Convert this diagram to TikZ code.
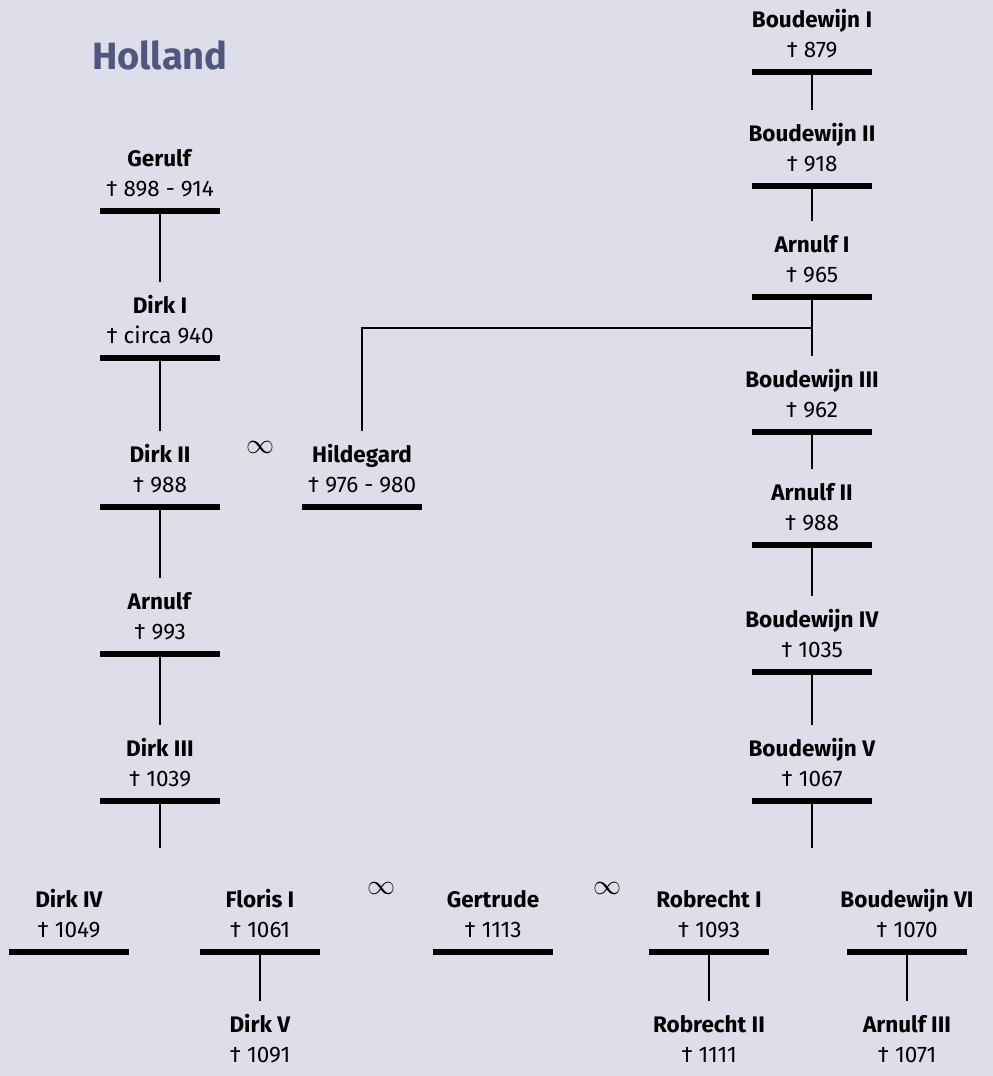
\documentclass[tikz,border=0pt]{standalone}
\usepackage{fontspec}
\usepackage{graphicx}
\setmainfont{Fira Sans}
\begin{document}
\begin{tikzpicture}[x=1pt,y=-1pt,
  person/.style={anchor=south, minimum width=120pt, minimum height=76pt, inner sep=0pt,
    align=center, font=\fontsize{22.5}{30}\selectfont},
  bar/.style={line width=5.5pt},
  link/.style={line width=1.3pt},
  marr/.style={inner sep=0pt}]
\fill[fill={rgb,255:red,222;green,221;blue,234}] (0,0) rectangle (993,1076);
\useasboundingbox (0,0) rectangle (993,1076);
\node[anchor=west, font=\fontsize{38}{38}\bfseries\selectfont, text={rgb,255:red,80;green,86;blue,128}, inner sep=0pt] (title) at (92,55) {Holland};
\newcommand{\pers}[5]{%
  \node[person] (#1) at (#2,#3) {\textbf{#4}\\\dag\ #5};
  \draw[bar] ([xshift=-60pt]#1.south) -- ([xshift=60pt]#1.south);}
\newcommand{\persnb}[5]{%
  \node[person] (#1) at (#2,#3) {\textbf{#4}\\\dag\ #5};}
% left column
\pers{gerulf}{160}{211}{Gerulf}{898 - 914}
\pers{dirk1}{160}{358}{Dirk I}{circa 940}
\pers{dirk2}{160}{507}{Dirk II}{988}
\pers{arnulf}{160}{654}{Arnulf}{993}
\pers{dirk3}{160}{801}{Dirk III}{1039}
\pers{hildegard}{362}{507}{Hildegard}{976 - 980}
% right column
\pers{boud1}{812}{72}{Boudewijn I}{879}
\pers{boud2}{812}{186}{Boudewijn II}{918}
\pers{arn1}{812}{297}{Arnulf I}{965}
\pers{boud3}{812}{432}{Boudewijn III}{962}
\pers{arn2}{812}{545}{Arnulf II}{988}
\pers{boud4}{812}{672}{Boudewijn IV}{1035}
\pers{boud5}{812}{801}{Boudewijn V}{1067}
% bottom row
\pers{dirk4}{69}{952}{Dirk IV}{1049}
\pers{floris}{260}{952}{Floris I}{1061}
\pers{gertrude}{493}{952}{Gertrude}{1113}
\pers{robr1}{709}{952}{Robrecht I}{1093}
\pers{boud6}{907}{952}{Boudewijn VI}{1070}
\persnb{dirk5}{260}{1077}{Dirk V}{1091}
\persnb{robr2}{709}{1077}{Robrecht II}{1111}
\persnb{arn3}{907}{1077}{Arnulf III}{1071}
% marriages
\node[marr] (m1) at (260,447) {\scalebox{2.8}{$\infty$}};
\node[marr] (m2) at (381,888) {\scalebox{2.8}{$\infty$}};
\node[marr] (m3) at (607,888) {\scalebox{2.8}{$\infty$}};
% connectors
\draw[link] (gerulf.south) -- (dirk1.north);
\draw[link] (dirk1.south) -- (dirk2.north);
\draw[link] (dirk2.south) -- (arnulf.north);
\draw[link] (arnulf.south) -- (dirk3.north);
\coordinate (d3end) at (160,848);
\draw[link] (dirk3.south) -- (d3end);
\draw[link] (boud1.south) -- (boud2.north);
\draw[link] (boud2.south) -- (arn1.north);
\draw[link] (arn1.south) -- (boud3.north);
\draw[link] (arn1.south |- 0,328) -| (hildegard.north);
\draw[link] (boud3.south) -- (arn2.north);
\draw[link] (arn2.south) -- (boud4.north);
\draw[link] (boud4.south) -- (boud5.north);
\coordinate (b5end) at (812,848);
\draw[link] (boud5.south) -- (b5end);
\draw[link] (floris.south) -- (dirk5.north);
\draw[link] (robr1.south) -- (robr2.north);
\draw[link] (boud6.south) -- (arn3.north);
\end{tikzpicture}
\end{document}
